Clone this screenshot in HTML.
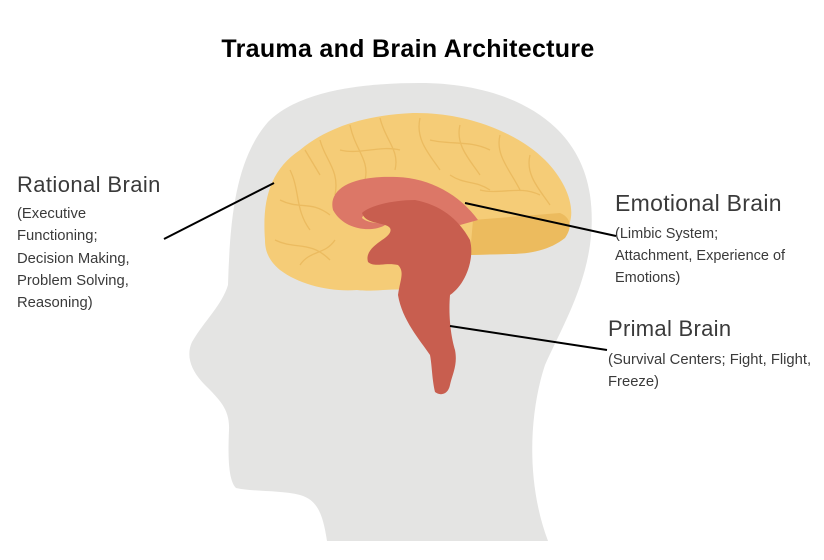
<!DOCTYPE html>
<html><head><meta charset="utf-8"><style>
html,body{margin:0;padding:0;background:#fff;width:824px;height:560px;overflow:hidden}
svg{display:block}
text{font-family:"Liberation Sans",sans-serif}
</style></head><body>
<svg width="824" height="560" viewBox="0 0 824 560">
<text x="408" y="57" text-anchor="middle" font-size="25" font-weight="bold" fill="#000" letter-spacing="0.3">Trauma and Brain Architecture</text>
<path fill="#e4e4e3" d="M327,541 C323,515 318,500 300,495 C280,490 255,492 236,488 C228,480 228,455 229,430 C230,410 220,400 205,385 C190,370 186,355 192,342 C205,320 222,305 228,285 C230,220 235,160 268,122 C300,90 365,83 420,83 C500,83 578,115 590,195 C600,265 565,320 545,365 C530,410 525,480 548,541 Z"/>
<path fill="#f5cc77" d="M265,240 C262,200 270,170 300,150 C330,125 370,115 413,113 C470,112 520,135 545,160 C565,180 575,205 570,222 C560,245 540,253 510,254 L470,255 C460,258 440,278 415,290 C395,288 370,292 357,290 C330,292 300,285 280,270 C268,260 265,250 265,240 Z"/>
<path fill="#ecbb5e" d="M473,220 L560,213 C572,218 572,228 565,238 C550,250 530,254 510,254 L470,255 Z"/>
<g stroke="#e8b75a" stroke-width="1.3" fill="none" opacity="0.8">
<path d="M290,170 C300,190 295,210 310,230 M320,140 C325,160 340,170 335,195 M350,125 C355,150 370,160 365,180 M380,118 C385,140 400,150 395,170 M420,118 C415,140 430,155 440,170 M460,125 C455,145 470,160 480,175 M500,135 C495,155 510,170 520,190 M530,155 C525,175 540,190 550,205 M280,200 C300,210 310,200 330,215 M275,240 C295,250 310,240 330,260 M300,265 C310,250 325,255 335,240 M340,150 C360,155 380,145 400,150 M430,140 C450,145 470,140 490,150 M480,190 C500,195 520,185 540,195 M305,150 L320,175 M450,175 C465,185 475,180 490,190"/>
</g>
<path fill="#dc7767" d="M333,210 C328,190 350,175 397,177 C430,178 460,195 478,220 L460,225 C440,210 420,205 400,205 C380,205 365,210 362,218 C370,225 385,222 385,225 C375,232 345,232 333,210 Z"/>
<path fill="#c85e4f" d="M362,213 C370,205 395,200 415,200 C440,205 458,218 470,240 C475,260 465,285 450,295 C448,320 452,340 455,350 C458,365 452,375 450,385 C448,395 440,396 435,392 C432,380 432,365 430,355 C420,340 402,320 398,295 C400,280 405,272 398,265 C385,262 375,268 368,262 C365,252 375,245 382,240 C390,235 395,228 385,225 C375,222 365,222 362,213 Z"/>
<g stroke="#000" stroke-width="2" fill="none">
<line x1="164" y1="239" x2="274" y2="183"/>
<line x1="465" y1="203" x2="616" y2="236"/>
<line x1="450" y1="326" x2="607" y2="350"/>
</g>
<g fill="#3a3a3a">
<text x="17" y="192" font-size="22" letter-spacing="0.4">Rational Brain</text>
<text x="17" y="218" font-size="14.8">(Executive</text>
<text x="17" y="240" font-size="14.8">Functioning;</text>
<text x="17" y="263" font-size="14.8">Decision Making,</text>
<text x="17" y="285" font-size="14.8">Problem Solving,</text>
<text x="17" y="307" font-size="14.8">Reasoning)</text>
<text x="615" y="211" font-size="23" letter-spacing="0.3">Emotional Brain</text>
<text x="615" y="238" font-size="14.5">(Limbic System;</text>
<text x="615" y="260" font-size="14.5">Attachment, Experience of</text>
<text x="615" y="282" font-size="14.5">Emotions)</text>
<text x="608" y="336" font-size="22" letter-spacing="0.3">Primal Brain</text>
<text x="608" y="364" font-size="14.8">(Survival Centers; Fight, Flight,</text>
<text x="608" y="386" font-size="14.8">Freeze)</text>
</g>
</svg>
</body></html>
